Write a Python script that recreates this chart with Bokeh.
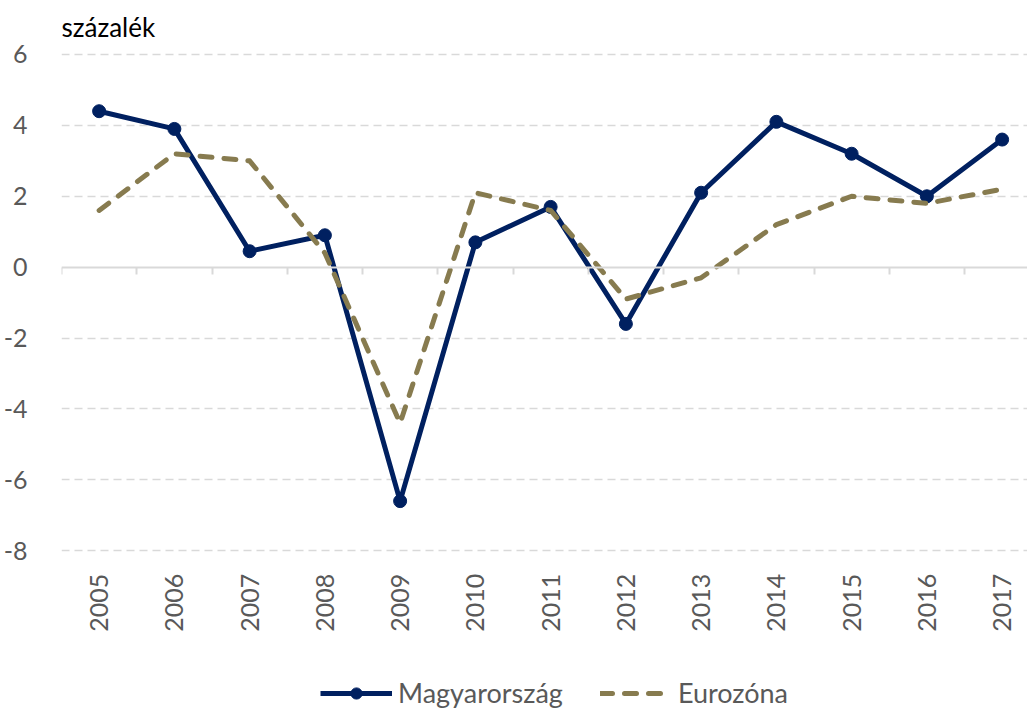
import math
from bokeh.plotting import figure
from bokeh.models import (Range1d, FixedTicker, LinearAxis, Legend, LegendItem,
                          Title, ColumnDataSource)
from bokeh.embed import file_html
from bokeh.resources import INLINE

years = [str(y) for y in range(2005, 2018)]
hungary = [4.4, 3.9, 0.45, 0.9, -6.6, 0.7, 1.7, -1.6, 2.1, 4.1, 3.2, 2.0, 3.6]
eurozone = [1.6, 3.2, 3.0, 0.4, -4.4, 2.1, 1.6, -0.9, -0.3, 1.2, 2.0, 1.8, 2.2]
y_ticks = [-8, -6, -4, -2, 0, 2, 4, 6]
unit_label = "százalék"
series_names = ["Magyarország", "Eurozóna"]

xs = list(range(len(years)))
src = ColumnDataSource(dict(x=xs, hu=hungary, ez=eurozone))

FONT = "Lato"
TXT = "#595959"
NAVY = "#002060"
OLIVE = "#877b4f"
GRID = "#d9d9d9"

# layout (pixels)
W, H = 1027, 709
TOP, LEFT = 50, 61
TOP_PAD = 3              # pixels between frame top and the highest gridline
AXIS_PX = 497            # pixel span of the value axis from -8 to 6
PX_PER_CAT = 75.25
px_per_unit = AXIS_PX / (y_ticks[-1] - y_ticks[0])
frame_h = H - TOP
y_hi = y_ticks[-1] + TOP_PAD / px_per_unit
y_lo = y_hi - frame_h / px_per_unit   # extra room below for labels/legend
x_hi = -0.5 + (W - LEFT) / PX_PER_CAT

p = figure(width=W, height=H, output_backend="svg", toolbar_location=None,
           x_range=Range1d(-0.5, x_hi), y_range=Range1d(y_lo, y_hi),
           min_border_left=LEFT, min_border_right=0, min_border_top=TOP,
           min_border_bottom=0)
p.outline_line_color = None
p.background_fill_color = "white"
p.border_fill_color = "white"

# y axis
p.yaxis.ticker = FixedTicker(ticks=y_ticks)
p.yaxis.major_label_overrides = {t: str(t) for t in y_ticks}
p.yaxis.axis_line_color = None
p.yaxis.major_tick_line_color = None
p.yaxis.minor_tick_line_color = None
p.yaxis.major_label_standoff = 28
p.yaxis.major_label_text_font = FONT
p.yaxis.major_label_text_font_size = "25px"
p.yaxis.major_label_text_color = TXT

# grid
p.xgrid.grid_line_color = None
p.ygrid.ticker = FixedTicker(ticks=[t for t in y_ticks if t != 0])
p.ygrid.grid_line_color = GRID
p.ygrid.grid_line_width = 1.5
p.ygrid.grid_line_dash = "8 5"

# year labels, hung under the lowest gridline
p.xaxis.fixed_location = y_ticks[0]
p.xaxis.ticker = FixedTicker(ticks=xs)
p.xaxis.major_label_overrides = {i: y for i, y in zip(xs, years)}
p.xaxis.axis_line_color = None
p.xaxis.major_tick_line_color = None
p.xaxis.minor_tick_line_color = None
p.xaxis.major_label_orientation = math.pi / 2
p.xaxis.major_label_standoff = 17
p.xaxis.major_label_text_font = FONT
p.xaxis.major_label_text_font_size = "25px"
p.xaxis.major_label_text_color = TXT

# category axis at zero with separator ticks
sep_ticks = [i - 0.5 for i in range(len(years) + 1)]
sep = LinearAxis(fixed_location=0,
                 ticker=FixedTicker(ticks=sep_ticks),
                 major_label_overrides={t: "" for t in sep_ticks},
                 major_label_text_font_size="1px",
                 major_tick_in=0, major_tick_out=7,
                 minor_tick_line_color=None,
                 axis_line_color=GRID, axis_line_width=2,
                 major_tick_line_color=GRID, major_tick_line_width=2)
p.add_layout(sep, "below")

# series
lh = p.line("x", "hu", source=src, line_color=NAVY, line_width=5, line_join="round")
sh = p.scatter("x", "hu", source=src, size=13, fill_color=NAVY, line_color=NAVY)
le = p.line("x", "ez", source=src, line_color=OLIVE, line_width=5,
            line_dash="12 12", line_cap="round", line_join="round")

legend = Legend(items=[LegendItem(label=series_names[0], renderers=[lh, sh]),
                       LegendItem(label=series_names[1], renderers=[le])],
                orientation="horizontal", location=(259, 0),
                padding=0, margin=0, spacing=37, label_standoff=6,
                glyph_width=72, glyph_height=28, label_height=28,
                label_text_font=FONT, label_text_font_size="27px",
                label_text_color=TXT, border_line_color=None,
                background_fill_alpha=0)
p.add_layout(legend, "center")

p.add_layout(Title(text=unit_label, align="left", text_font=FONT,
                   text_font_size="26px", text_font_style="normal",
                   text_color="black", standoff=17, offset=0), "above")

open("out.html", "w").write(file_html(p, INLINE))
